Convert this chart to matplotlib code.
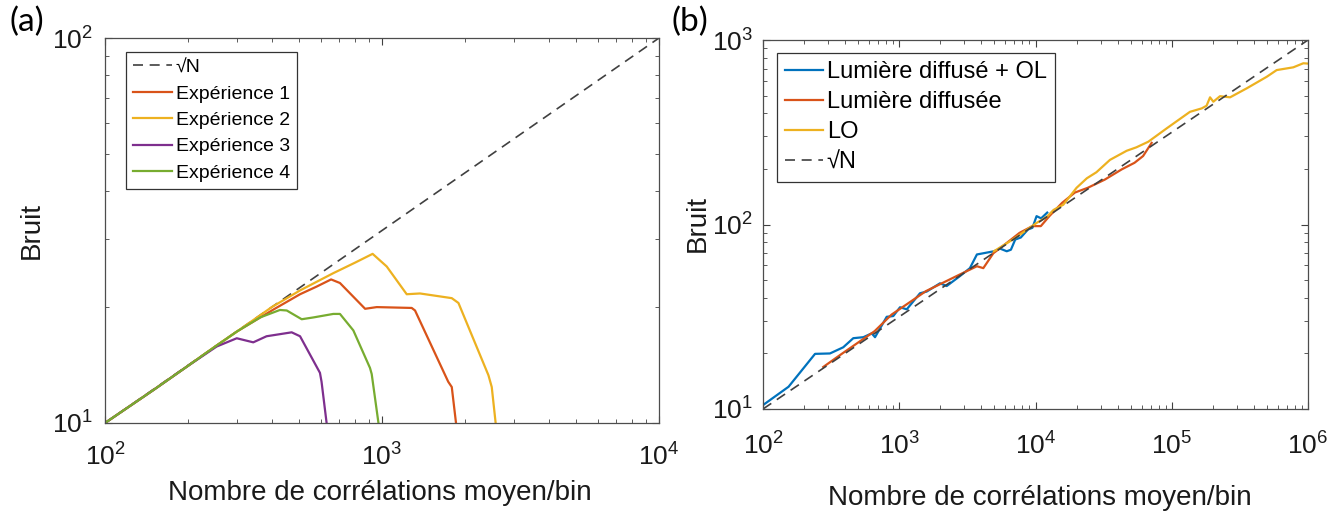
import matplotlib
matplotlib.use('Agg')
import matplotlib.pyplot as plt
from matplotlib.ticker import LogLocator, NullFormatter

plt.rcParams['font.family'] = ['Liberation Sans', 'DejaVu Sans']
plt.rcParams['mathtext.default'] = 'regular'

# colours (matlab defaults)
c_blue = '#0072BD'
c_red = '#D95319'
c_yellow = '#EDB120'
c_purple = '#7E2F8E'
c_green = '#77AC30'
c_dash = '#404040'

# ---------- data panel (a) ----------
sqrt_a_x = [100, 10000]
sqrt_a_y = [10, 100]

exp1_x = [100, 150, 200, 250, 300, 405, 506, 580, 655, 705, 869, 957, 1280, 1316, 1734, 1786, 1850]
exp1_y = [10, 12.2, 14.1, 15.8, 17.3, 19.7, 21.6, 22.6, 23.6, 23.1, 19.8, 20.0, 19.9, 19.6, 12.8, 12.4, 10]

exp2_x = [100, 150, 200, 250, 300, 400, 506, 667, 800, 925, 1040, 1228, 1371, 1786, 1888, 2423, 2490, 2572]
exp2_y = [10, 12.2, 14.1, 15.8, 17.3, 20.0, 22.1, 24.5, 26.1, 27.5, 25.5, 21.6, 21.7, 21.1, 20.5, 13.3, 12.4, 10]

exp3_x = [100, 150, 200, 253, 299, 343, 383, 472, 506, 597, 605, 631]
exp3_y = [10, 12.2, 14.1, 15.8, 16.6, 16.2, 16.8, 17.2, 16.8, 13.5, 12.8, 10]

exp4_x = [100, 150, 200, 250, 300, 363, 428, 453, 513, 565, 667, 705, 788, 905, 918, 971]
exp4_y = [10, 12.2, 14.1, 15.8, 17.3, 18.8, 19.66, 19.6, 18.6, 18.8, 19.2, 19.2, 17.4, 13.9, 13.4, 10]

# ---------- data panel (b) ----------
sqrt_b_x = [100, 1000000]
sqrt_b_y = [10, 1000]

blue_x = [100, 154, 241, 310, 388, 460, 545, 628, 664, 809, 904, 1013, 1135, 1420, 1590, 1990, 2230,
          2786, 3300, 3715, 4955, 5500, 6150, 6600, 7100, 7800, 8810, 9500, 10180, 11000, 12190]
blue_y = [10.5, 13.2, 19.9, 20.0, 21.6, 24.2, 24.5, 25.7, 24.5, 31.6, 31.9, 35.6, 34.7, 42.4, 43.3, 48.0, 46.4,
          52.5, 58, 68.8, 71.6, 74, 71.6, 73, 82.9, 85, 94.0, 96, 111, 108, 116]

red_x = [277, 371, 494, 659, 879, 1175, 1566, 2089, 2786, 3715, 4140, 4900, 5725, 7640, 9480, 10940, 12640,
         15670, 19450, 24150, 32210, 42950, 53300, 61600, 71200]
red_y = [16.9, 19.7, 22.8, 26.4, 32.5, 37.6, 43.5, 48.3, 53.6, 59.4, 58, 69.8, 76.2, 90.1, 98.0, 98.0, 111,
         131, 149, 158, 175, 199, 216, 235, 277]

lo_x = [4955, 7000, 10190, 12100, 13580, 16000, 20000, 23800, 28000, 35200, 46700, 55000, 67300, 91800,
        136000, 166000, 180000, 191000, 202000, 226000, 268000, 355000, 498000, 589000, 780000, 924000, 1000000]
lo_y = [71.6, 84, 102, 110, 120, 128, 158, 178, 192, 224, 251, 262, 281, 332,
        408, 426, 440, 489, 463, 496, 489, 547, 632, 687, 711, 748, 745]

W, H = 1337, 517
fig = plt.figure(figsize=(W / 100, H / 100), dpi=100)

# axes placed from pixel boxes
ax1 = fig.add_axes([105 / W, 1 - 423 / H, (659 - 105) / W, (423 - 38) / H])
ax2 = fig.add_axes([763 / W, 1 - 409 / H, (1308 - 763) / W, (409 - 40) / H])


def style_axis(ax, xpad, ypad):
    ax.set_xscale('log')
    ax.set_yscale('log')
    ax.xaxis.set_minor_locator(LogLocator(base=10, subs=range(2, 10)))
    ax.yaxis.set_minor_locator(LogLocator(base=10, subs=range(2, 10)))
    ax.xaxis.set_minor_formatter(NullFormatter())
    ax.yaxis.set_minor_formatter(NullFormatter())
    ax.tick_params(which='both', direction='in', top=True, right=True, colors='0.25', labelcolor='#1a1a1a')
    ax.tick_params(which='major', length=5, width=0.8, labelsize=19)
    ax.tick_params(which='minor', length=3, width=0.6)
    ax.tick_params(axis='x', which='major', pad=xpad)
    ax.tick_params(axis='y', which='major', pad=ypad)
    for s in ax.spines.values():
        s.set_color('0.3')
        s.set_linewidth(0.9)


# ---------- panel (a) ----------
ax1.plot(sqrt_a_x, sqrt_a_y, '--', color=c_dash, lw=1.2, dashes=(6, 4), label='√N')
ax1.plot(exp1_x, exp1_y, color=c_red, lw=1.6, label='Expérience 1')
ax1.plot(exp2_x, exp2_y, color=c_yellow, lw=1.6, label='Expérience 2')
ax1.plot(exp3_x, exp3_y, color=c_purple, lw=1.6, label='Expérience 3')
ax1.plot(exp4_x, exp4_y, color=c_green, lw=1.6, label='Expérience 4')
ax1.set_xlim(100, 10000)
ax1.set_ylim(10, 100)
style_axis(ax1, 15, 9)

ax1.set_xlabel('Nombre de corrélations moyen/bin', fontsize=20, color='#1a1a1a')
ax1.set_ylabel('Bruit', fontsize=20, color='#1a1a1a')
ax1.xaxis.set_label_coords(0.496, -0.182)
ax1.xaxis.label.set_va('center')
ax1.yaxis.set_label_coords(-0.132, 0.501)
ax1.yaxis.label.set_va('center')

leg1 = ax1.legend(loc='upper left', bbox_to_anchor=(0.038, 0.964), borderaxespad=0, fontsize=14,
                  handlelength=2.0, handletextpad=0.2, labelspacing=0.45, borderpad=0.35,
                  fancybox=False, framealpha=1, edgecolor='0.2')
leg1.get_frame().set_linewidth(0.9)

# ---------- panel (b) ----------
ax2.plot(blue_x, blue_y, color=c_blue, lw=1.6, label='Lumière diffusé + OL')
ax2.plot(red_x, red_y, color=c_red, lw=1.6, label='Lumière diffusée')
ax2.plot(lo_x, lo_y, color=c_yellow, lw=1.6, label='LO')
ax2.plot(sqrt_b_x, sqrt_b_y, '--', color=c_dash, lw=1.2, dashes=(6, 4), label='√N')
ax2.set_xlim(100, 1000000)
ax2.set_ylim(10, 1000)
style_axis(ax2, 17, 7)

ax2.set_xlabel('Nombre de corrélations moyen/bin', fontsize=20, color='#1a1a1a')
ax2.set_ylabel('Bruit', fontsize=20, color='#1a1a1a')
ax2.xaxis.set_label_coords(0.508, -0.241)
ax2.xaxis.label.set_va('center')
ax2.yaxis.set_label_coords(-0.119, 0.504)
ax2.yaxis.label.set_va('center')

leg2 = ax2.legend(loc='upper left', bbox_to_anchor=(0.026, 0.965), borderaxespad=0, fontsize=17,
                  handlelength=1.6, handletextpad=0.15, labelspacing=0.34, borderpad=0.35,
                  fancybox=False, framealpha=1, edgecolor='0.2')
leg2.get_frame().set_linewidth(0.9)

# panel letters
fig.text(27 / W, 1 - 22 / H, '(a)', fontsize=24, ha='center', va='center', family=['Lato', 'DejaVu Sans'])
fig.text(690 / W, 1 - 22 / H, '(b)', fontsize=24, ha='center', va='center', family=['Lato', 'DejaVu Sans'])

fig.savefig('out.png', dpi=100)
